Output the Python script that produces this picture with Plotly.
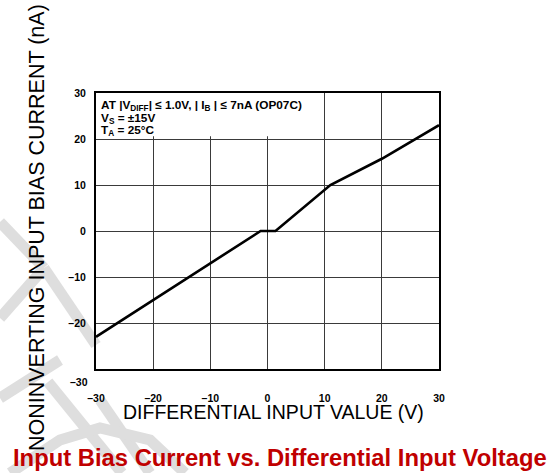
import plotly.graph_objects as go

# ---- data ----
diff_voltage = [-30, -1.2, 1.4, 11, 20, 30]
bias_current = [-23, 0, 0, 10, 15.7, 23]

x_tick_vals = [-30, -20, -10, 0, 10, 20, 30]
x_tick_text = ["–30", "–20", "–10", "0", "10", "20", "30"]
y_tick_vals = [-20, -10, 0, 10, 20, 30]
y_tick_text = ["–20", "–10", "0", "10", "20", "30"]
y_bottom_label = "–30"

x_title = "DIFFERENTIAL INPUT VALUE (V)"
y_title = "NONINVERTING INPUT BIAS CURRENT (nA)"
chart_title = "Input Bias Current vs. Differential Input Voltage"
cond_lines = [
    "AT |V<sub>DIFF</sub>| ≤ 1.0V, | I<sub>B</sub> | ≤ 7nA (OP07C)",
    "V<sub>S</sub> = ±15V",
    "T<sub>A</sub> = 25°C",
]

W, H = 555, 473
L, R, T, B = 96, 116, 93, 104
PW, PH = W - L - R, H - T - B
FONT = "Liberation Sans, Arial, sans-serif"


def px(xp, yp):
    return (xp - L) / PW, (H - B - yp) / PH


fig = go.Figure()
fig.add_trace(go.Scatter(x=diff_voltage, y=bias_current, mode="lines",
                         line=dict(color="black", width=2.6), hoverinfo="skip",
                         showlegend=False))

shapes = []
# light grey watermark strokes (pixel space)
wm = [
    [(0, 222), (44, 268)],
    [(0, 318), (44, 268)],
    [(44, 268), (96, 345)],
    [(0, 398), (60, 360)],
    [(48, 382), (122, 473)],
    [(100, 400), (150, 473)],
    [(10, 473), (60, 440), (100, 428), (150, 440), (185, 473)],
]
for seg in wm:
    pts = [px(a, b) for a, b in seg]
    path = "M " + " L ".join(f"{a:.4f},{b:.4f}" for a, b in pts)
    shapes.append(dict(type="path", xref="paper", yref="paper", path=path,
                       line=dict(color="rgb(222,222,222)", width=11),
                       layer="below"))
# white box behind conditions text
shapes.append(dict(type="rect", xref="x", yref="y", x0=-30, x1=8.8, y0=20.6, y1=30,
                   fillcolor="white", line=dict(width=0), layer="between"))

annotations = []
for i, t in enumerate(cond_lines):
    annotations.append(dict(x=-30, y=30, xref="x", yref="y", xanchor="left",
                            yanchor="top", xshift=3, yshift=-3 - 12.5 * i,
                            text=f"<b>{t}</b>", showarrow=False,
                            font=dict(family=FONT, size=11.8, color="black")))
annotations.append(dict(x=-30, y=-30, xref="x", yref="y",
                        xanchor="right", yanchor="middle", xshift=-6, yshift=-13,
                        text=f"<b>{y_bottom_label}</b>", showarrow=False,
                        font=dict(family=FONT, size=10.5, color="black")))
ax, ay = px(37, 228)
annotations.append(dict(x=ax, y=ay, xref="paper", yref="paper", text=y_title,
                        textangle=-90, showarrow=False, xanchor="center",
                        yanchor="middle",
                        font=dict(family=FONT, size=21.5, color="black")))
ax, ay = px(273, 412)
annotations.append(dict(x=ax, y=ay, xref="paper", yref="paper", text=x_title,
                        showarrow=False, xanchor="center", yanchor="middle",
                        font=dict(family=FONT, size=19.5, color="black")))
ax, ay = px(280, 458)
annotations.append(dict(x=ax, y=ay, xref="paper", yref="paper",
                        text=f"<b>{chart_title}</b>", showarrow=False,
                        xanchor="center", yanchor="middle",
                        font=dict(family=FONT, size=23.8, color="#C00000")))

fig.update_layout(
    width=W, height=H, margin=dict(l=L, r=R, t=T, b=B, pad=0),
    paper_bgcolor="white", plot_bgcolor="white",
    shapes=shapes, annotations=annotations, showlegend=False,
    xaxis=dict(range=[-30, 30], tickvals=x_tick_vals, ticktext=x_tick_text,
               showgrid=True, gridcolor="#3a3a3a", gridwidth=1.3,
               zeroline=False, showline=True, mirror=True, linecolor="black",
               linewidth=2, ticks="", ticklabelstandoff=18,
               tickfont=dict(family=FONT, size=10.5, color="black", weight="bold"),
               fixedrange=True),
    yaxis=dict(range=[-30, 30], tickvals=y_tick_vals, ticktext=y_tick_text,
               showgrid=True, gridcolor="#3a3a3a", gridwidth=1.3,
               zeroline=False, showline=True, mirror=True, linecolor="black",
               linewidth=2, ticks="", ticklabelstandoff=6,
               tickfont=dict(family=FONT, size=10.5, color="black", weight="bold"),
               fixedrange=True),
)

fig.write_html("out.html")
